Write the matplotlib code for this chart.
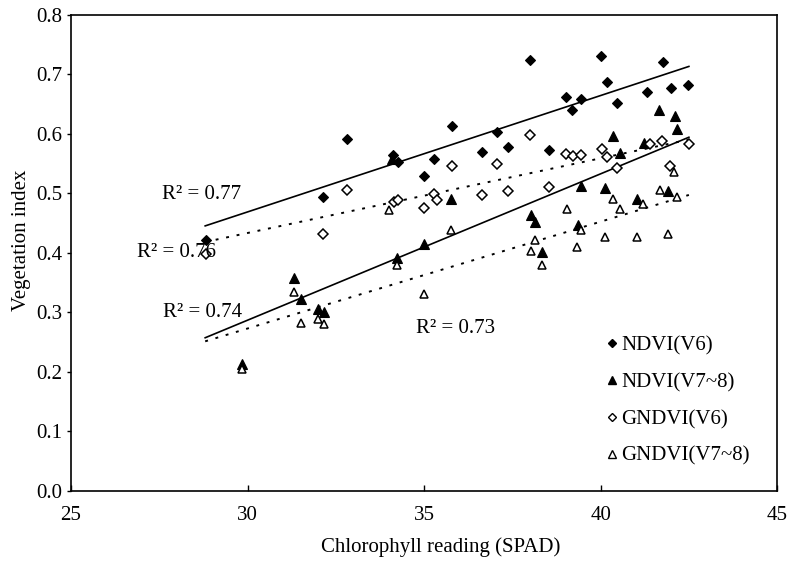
import matplotlib
matplotlib.use("Agg")
import matplotlib.pyplot as plt
from matplotlib.lines import Line2D

# ---- data ----
ndvi_v6_x = [28.81, 32.15, 32.83, 34.11, 34.25, 34.99, 35.29, 35.80, 36.64, 37.07, 37.37,
             38.01, 38.55, 39.01, 39.20, 39.43, 40.01, 40.17, 40.47, 41.32, 41.76, 42.00, 42.47]
ndvi_v6_y = [0.421, 0.494, 0.591, 0.564, 0.553, 0.529, 0.557, 0.613, 0.570, 0.602, 0.578,
             0.723, 0.573, 0.661, 0.639, 0.659, 0.731, 0.687, 0.652, 0.670, 0.720, 0.677, 0.682]

gndvi_v6_x = [28.81, 32.15, 32.83, 34.15, 34.25, 34.99, 35.29, 35.36, 35.80, 36.64, 37.07, 37.37,
              38.01, 38.55, 39.01, 39.22, 39.43, 40.03, 40.18, 40.47, 41.40, 41.75, 41.97, 42.49]
gndvi_v6_y = [0.397, 0.431, 0.505, 0.486, 0.488, 0.475, 0.498, 0.489, 0.545, 0.497, 0.549, 0.503,
              0.597, 0.510, 0.566, 0.562, 0.564, 0.575, 0.560, 0.542, 0.583, 0.587, 0.545, 0.583]

ndvi_v78_x = [29.85, 31.32, 31.52, 32.00, 32.17, 34.08, 34.22, 35.01, 35.75, 38.02, 38.15, 38.35,
              39.35, 39.44, 40.12, 40.34, 40.55, 41.02, 41.24, 41.66, 41.92, 42.11, 42.16]
ndvi_v78_y = [0.213, 0.357, 0.322, 0.305, 0.301, 0.558, 0.391, 0.415, 0.490, 0.464, 0.452, 0.401,
              0.446, 0.512, 0.509, 0.596, 0.567, 0.491, 0.584, 0.640, 0.504, 0.629, 0.608]

gndvi_v78_x = [29.85, 31.32, 31.52, 32.00, 32.17, 34.01, 34.23, 35.01, 35.77, 38.02, 38.15, 38.35,
               39.05, 39.34, 39.43, 40.12, 40.34, 40.55, 41.04, 41.21, 41.68, 41.90, 42.08, 42.16]
gndvi_v78_y = [0.204, 0.334, 0.282, 0.288, 0.280, 0.472, 0.379, 0.330, 0.438, 0.402, 0.421, 0.380,
               0.473, 0.410, 0.438, 0.426, 0.490, 0.473, 0.426, 0.481, 0.505, 0.431, 0.536, 0.494]

# trend lines (end values)
trend_x = [28.8, 42.5]
ndvi_v6_trend = [0.445, 0.713]
gndvi_v6_trend = [0.418, 0.590]
ndvi_v78_trend = [0.257, 0.594]
gndvi_v78_trend = [0.251, 0.497]

r2_labels = ["R\u00b2 = 0.77", "R\u00b2 = 0.76", "R\u00b2 = 0.74", "R\u00b2 = 0.73"]
r2_pos = [(27.59, 0.497), (26.88, 0.401), (27.60, 0.300), (34.77, 0.273)]

series_names = ["NDVI(V6)", "NDVI(V7~8)", "GNDVI(V6)", "GNDVI(V7~8)"]

plt.rcParams['font.family'] = ['Liberation Serif', 'DejaVu Serif']
FS = 15

fig = plt.figure(figsize=(7.89, 5.64), dpi=100)
ax = fig.add_axes([0.090, 0.130, 0.895, 0.844])

mk = dict(linestyle='none')
ax.plot(ndvi_v6_x, ndvi_v6_y, marker='D', ms=5.4, mfc='black', mec='black', mew=0.8, **mk, zorder=3)
ax.plot(ndvi_v78_x, ndvi_v78_y, marker='^', ms=7.0, mfc='black', mec='black', mew=0.8, **mk, zorder=3)
ax.plot(gndvi_v6_x, gndvi_v6_y, marker='D', ms=4.6, mfc='white', mec='black', mew=1.1, **mk, zorder=3)
ax.plot(gndvi_v78_x, gndvi_v78_y, marker='^', ms=6.3, mfc='white', mec='black', mew=1.1, **mk, zorder=3)

ax.plot(trend_x, ndvi_v6_trend, color='black', lw=1.2, zorder=2)
ax.plot(trend_x, ndvi_v78_trend, color='black', lw=1.2, zorder=2)
ax.plot(trend_x, gndvi_v6_trend, color='black', lw=1.4, linestyle=(0, (1.5, 4)), zorder=2)
ax.plot(trend_x, gndvi_v78_trend, color='black', lw=1.4, linestyle=(0, (1.5, 4)), zorder=2)

for lab, (tx, ty) in zip(r2_labels, r2_pos):
    ax.text(tx, ty, lab, fontsize=FS, ha='left', va='center')

ax.set_xlim(25, 45)
ax.set_ylim(0.0, 0.8)
ax.set_xticks([25, 30, 35, 40, 45])
ax.set_yticks([0.0, 0.1, 0.2, 0.3, 0.4, 0.5, 0.6, 0.7, 0.8])
ax.set_yticklabels([f"{v:.1f}" for v in ax.get_yticks()])
ax.tick_params(axis='x', direction='in', length=4, width=1, labelsize=FS, pad=11)
ax.tick_params(axis='y', direction='out', length=3, width=1, labelsize=FS, pad=3.5)
for s in ax.spines.values():
    s.set_linewidth(1.2)

ax.set_xlabel("Chlorophyll reading (SPAD)", fontsize=FS)
ax.xaxis.set_label_coords(0.523, -0.098)
ax.set_ylabel("Vegetation index", fontsize=FS)
ax.yaxis.set_label_coords(-0.056, 0.527)

handles = [
    Line2D([], [], marker='D', ms=4.5, mfc='black', mec='black', linestyle='none'),
    Line2D([], [], marker='^', ms=6, mfc='black', mec='black', linestyle='none'),
    Line2D([], [], marker='D', ms=4.0, mfc='white', mec='black', mew=1.0, linestyle='none'),
    Line2D([], [], marker='^', ms=5.5, mfc='white', mec='black', mew=1.0, linestyle='none'),
]
ax.legend(handles, series_names, loc='lower left', bbox_to_anchor=(0.757, 0.052),
          frameon=False, fontsize=FS, handlelength=0.6, handletextpad=0.15,
          labelspacing=0.83, borderpad=0.0, borderaxespad=0.0)

fig.savefig("out.png", dpi=100)
